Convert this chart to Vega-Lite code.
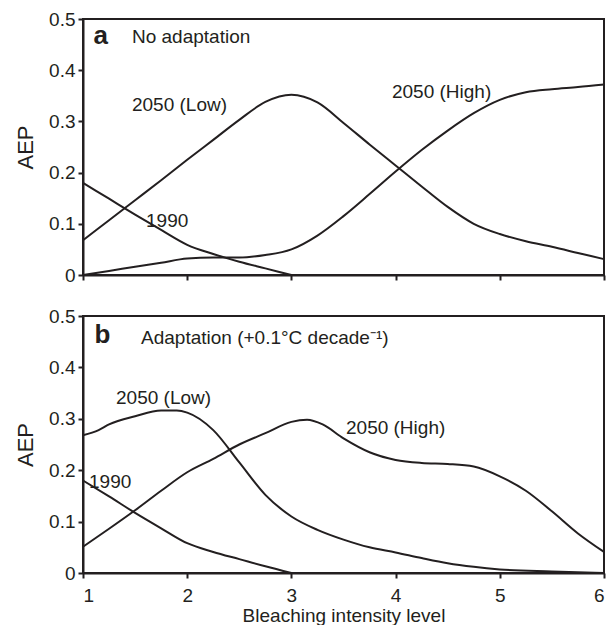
{
  "$schema": "https://vega.github.io/schema/vega-lite/v6.json",
  "padding": {"left": 13, "top": 9, "right": 8, "bottom": 0},
  "background": "white",
  "config": {
    "font": "Liberation Sans",
    "view": {"stroke": "#231f20", "strokeWidth": 2},
    "axis": {
      "grid": false,
      "domainColor": "#231f20",
      "domainWidth": 2,
      "tickColor": "#231f20",
      "tickWidth": 2,
      "tickSize": 5,
      "labelColor": "#231f20",
      "labelFont": "Liberation Sans",
      "labelFontSize": 19,
      "titleFont": "Liberation Sans",
      "titleFontWeight": "normal",
      "titleColor": "#231f20"
    }
  },
  "datasets": {
    "curves": [
      {"panel": "a", "series": "1990", "x": 1, "y": 0.18},
      {"panel": "a", "series": "1990", "x": 1.25, "y": 0.149},
      {"panel": "a", "series": "1990", "x": 1.5, "y": 0.118},
      {"panel": "a", "series": "1990", "x": 1.75, "y": 0.088},
      {"panel": "a", "series": "1990", "x": 2, "y": 0.059},
      {"panel": "a", "series": "1990", "x": 2.25, "y": 0.041},
      {"panel": "a", "series": "1990", "x": 2.5, "y": 0.026},
      {"panel": "a", "series": "1990", "x": 2.75, "y": 0.013},
      {"panel": "a", "series": "1990", "x": 3, "y": 0},
      {"panel": "a", "series": "2050 (Low)", "x": 1, "y": 0.068},
      {"panel": "a", "series": "2050 (Low)", "x": 1.25, "y": 0.107},
      {"panel": "a", "series": "2050 (Low)", "x": 1.5, "y": 0.146},
      {"panel": "a", "series": "2050 (Low)", "x": 1.75, "y": 0.185},
      {"panel": "a", "series": "2050 (Low)", "x": 2, "y": 0.225},
      {"panel": "a", "series": "2050 (Low)", "x": 2.25, "y": 0.264},
      {"panel": "a", "series": "2050 (Low)", "x": 2.5, "y": 0.303},
      {"panel": "a", "series": "2050 (Low)", "x": 2.75, "y": 0.338},
      {"panel": "a", "series": "2050 (Low)", "x": 3, "y": 0.352},
      {"panel": "a", "series": "2050 (Low)", "x": 3.25, "y": 0.337},
      {"panel": "a", "series": "2050 (Low)", "x": 3.5, "y": 0.297},
      {"panel": "a", "series": "2050 (Low)", "x": 3.75, "y": 0.255},
      {"panel": "a", "series": "2050 (Low)", "x": 4, "y": 0.214},
      {"panel": "a", "series": "2050 (Low)", "x": 4.25, "y": 0.173},
      {"panel": "a", "series": "2050 (Low)", "x": 4.5, "y": 0.133},
      {"panel": "a", "series": "2050 (Low)", "x": 4.75, "y": 0.1},
      {"panel": "a", "series": "2050 (Low)", "x": 5, "y": 0.08},
      {"panel": "a", "series": "2050 (Low)", "x": 5.25, "y": 0.066},
      {"panel": "a", "series": "2050 (Low)", "x": 5.5, "y": 0.055},
      {"panel": "a", "series": "2050 (Low)", "x": 5.75, "y": 0.043},
      {"panel": "a", "series": "2050 (Low)", "x": 6, "y": 0.031},
      {"panel": "a", "series": "2050 (High)", "x": 1, "y": 0},
      {"panel": "a", "series": "2050 (High)", "x": 1.25, "y": 0.008},
      {"panel": "a", "series": "2050 (High)", "x": 1.5, "y": 0.016},
      {"panel": "a", "series": "2050 (High)", "x": 1.75, "y": 0.024},
      {"panel": "a", "series": "2050 (High)", "x": 2, "y": 0.032},
      {"panel": "a", "series": "2050 (High)", "x": 2.25, "y": 0.034},
      {"panel": "a", "series": "2050 (High)", "x": 2.5, "y": 0.034},
      {"panel": "a", "series": "2050 (High)", "x": 2.75, "y": 0.039},
      {"panel": "a", "series": "2050 (High)", "x": 3, "y": 0.05},
      {"panel": "a", "series": "2050 (High)", "x": 3.25, "y": 0.077},
      {"panel": "a", "series": "2050 (High)", "x": 3.5, "y": 0.115},
      {"panel": "a", "series": "2050 (High)", "x": 3.75, "y": 0.158},
      {"panel": "a", "series": "2050 (High)", "x": 4, "y": 0.202},
      {"panel": "a", "series": "2050 (High)", "x": 4.25, "y": 0.244},
      {"panel": "a", "series": "2050 (High)", "x": 4.5, "y": 0.282},
      {"panel": "a", "series": "2050 (High)", "x": 4.75, "y": 0.316},
      {"panel": "a", "series": "2050 (High)", "x": 5, "y": 0.342},
      {"panel": "a", "series": "2050 (High)", "x": 5.25, "y": 0.357},
      {"panel": "a", "series": "2050 (High)", "x": 5.5, "y": 0.363},
      {"panel": "a", "series": "2050 (High)", "x": 5.75, "y": 0.367},
      {"panel": "a", "series": "2050 (High)", "x": 6, "y": 0.372},
      {"panel": "b", "series": "1990", "x": 1, "y": 0.18},
      {"panel": "b", "series": "1990", "x": 1.25, "y": 0.149},
      {"panel": "b", "series": "1990", "x": 1.5, "y": 0.117},
      {"panel": "b", "series": "1990", "x": 1.75, "y": 0.087},
      {"panel": "b", "series": "1990", "x": 2, "y": 0.058},
      {"panel": "b", "series": "1990", "x": 2.25, "y": 0.041},
      {"panel": "b", "series": "1990", "x": 2.5, "y": 0.027},
      {"panel": "b", "series": "1990", "x": 2.75, "y": 0.013},
      {"panel": "b", "series": "1990", "x": 3, "y": 0},
      {"panel": "b", "series": "2050 (Low)", "x": 1, "y": 0.268},
      {"panel": "b", "series": "2050 (Low)", "x": 1.15, "y": 0.278},
      {"panel": "b", "series": "2050 (Low)", "x": 1.25, "y": 0.289},
      {"panel": "b", "series": "2050 (Low)", "x": 1.5, "y": 0.305},
      {"panel": "b", "series": "2050 (Low)", "x": 1.75, "y": 0.316},
      {"panel": "b", "series": "2050 (Low)", "x": 1.9, "y": 0.316},
      {"panel": "b", "series": "2050 (Low)", "x": 2, "y": 0.312},
      {"panel": "b", "series": "2050 (Low)", "x": 2.25, "y": 0.278},
      {"panel": "b", "series": "2050 (Low)", "x": 2.5, "y": 0.215},
      {"panel": "b", "series": "2050 (Low)", "x": 2.75, "y": 0.152},
      {"panel": "b", "series": "2050 (Low)", "x": 3, "y": 0.11},
      {"panel": "b", "series": "2050 (Low)", "x": 3.25, "y": 0.084},
      {"panel": "b", "series": "2050 (Low)", "x": 3.5, "y": 0.065},
      {"panel": "b", "series": "2050 (Low)", "x": 3.75, "y": 0.05},
      {"panel": "b", "series": "2050 (Low)", "x": 4, "y": 0.04},
      {"panel": "b", "series": "2050 (Low)", "x": 4.25, "y": 0.029},
      {"panel": "b", "series": "2050 (Low)", "x": 4.5, "y": 0.019},
      {"panel": "b", "series": "2050 (Low)", "x": 4.75, "y": 0.012},
      {"panel": "b", "series": "2050 (Low)", "x": 5, "y": 0.007},
      {"panel": "b", "series": "2050 (Low)", "x": 5.5, "y": 0.003},
      {"panel": "b", "series": "2050 (Low)", "x": 6, "y": 0},
      {"panel": "b", "series": "2050 (High)", "x": 1, "y": 0.051},
      {"panel": "b", "series": "2050 (High)", "x": 1.25, "y": 0.086},
      {"panel": "b", "series": "2050 (High)", "x": 1.5, "y": 0.122},
      {"panel": "b", "series": "2050 (High)", "x": 1.75, "y": 0.16},
      {"panel": "b", "series": "2050 (High)", "x": 2, "y": 0.196},
      {"panel": "b", "series": "2050 (High)", "x": 2.25, "y": 0.222},
      {"panel": "b", "series": "2050 (High)", "x": 2.5, "y": 0.25},
      {"panel": "b", "series": "2050 (High)", "x": 2.75, "y": 0.272},
      {"panel": "b", "series": "2050 (High)", "x": 3, "y": 0.294},
      {"panel": "b", "series": "2050 (High)", "x": 3.15, "y": 0.298},
      {"panel": "b", "series": "2050 (High)", "x": 3.3, "y": 0.289},
      {"panel": "b", "series": "2050 (High)", "x": 3.5, "y": 0.262},
      {"panel": "b", "series": "2050 (High)", "x": 3.75, "y": 0.235},
      {"panel": "b", "series": "2050 (High)", "x": 4, "y": 0.22},
      {"panel": "b", "series": "2050 (High)", "x": 4.25, "y": 0.214},
      {"panel": "b", "series": "2050 (High)", "x": 4.5, "y": 0.212},
      {"panel": "b", "series": "2050 (High)", "x": 4.75, "y": 0.207},
      {"panel": "b", "series": "2050 (High)", "x": 5, "y": 0.188},
      {"panel": "b", "series": "2050 (High)", "x": 5.25, "y": 0.16},
      {"panel": "b", "series": "2050 (High)", "x": 5.5, "y": 0.12},
      {"panel": "b", "series": "2050 (High)", "x": 5.75, "y": 0.077},
      {"panel": "b", "series": "2050 (High)", "x": 6, "y": 0.041}
    ],
    "labels": [
      {"panel": "a", "kind": "letter", "x": 1.1, "y": 0.466, "text": "a"},
      {"panel": "a", "kind": "note", "x": 1.47, "y": 0.464, "text": "No adaptation"},
      {"panel": "a", "kind": "note", "x": 1.47, "y": 0.333, "text": "2050 (Low)"},
      {"panel": "a", "kind": "note", "x": 1.605, "y": 0.106, "text": "1990"},
      {"panel": "a", "kind": "note", "x": 3.965, "y": 0.358, "text": "2050 (High)"},
      {"panel": "b", "kind": "letter", "x": 1.11, "y": 0.464, "text": "b"},
      {"panel": "b", "kind": "note", "x": 1.557, "y": 0.457, "text": "Adaptation (+0.1°C decade⁻¹)"},
      {"panel": "b", "kind": "note", "x": 1.317, "y": 0.34, "text": "2050 (Low)"},
      {"panel": "b", "kind": "note", "x": 1.058, "y": 0.177, "text": "1990"},
      {"panel": "b", "kind": "note", "x": 3.524, "y": 0.2815, "text": "2050 (High)"}
    ]
  },
  "bounds": "flush",
  "spacing": 41,
  "vconcat": [
    {
      "width": 521,
      "height": 256,
      "encoding": {
        "x": {"field": "x", "type": "quantitative", "scale": {"domain": [1, 6], "nice": false, "zero": false},
              "axis": {"values": [1, 2, 3, 4, 5, 6], "labels": false, "title": null}},
        "y": {"field": "y", "type": "quantitative", "scale": {"domain": [0, 0.5], "nice": false},
              "axis": {"values": [0, 0.1, 0.2, 0.3, 0.4, 0.5], "labelExpr": "datum.value == 0 ? '0' : format(datum.value, '.1f')", "labelPadding": 3, "title": "AEP", "titleFontSize": 22, "titlePadding": 11}}
      },
      "layer": [
        {
          "data": {"name": "curves"},
          "transform": [{"filter": "datum.panel == 'a'"}],
          "mark": {"type": "line", "interpolate": "monotone", "color": "#231f20", "strokeWidth": 2},
          "encoding": {"detail": {"field": "series", "type": "nominal"}}
        },
        {
          "data": {"name": "labels"},
          "transform": [{"filter": "datum.panel == 'a' && datum.kind == 'note'"}],
          "mark": {"type": "text", "align": "left", "baseline": "middle", "fontSize": 19, "color": "#231f20", "font": "Liberation Sans"},
          "encoding": {"text": {"field": "text", "type": "nominal"}}
        },
        {
          "data": {"name": "labels"},
          "transform": [{"filter": "datum.panel == 'a' && datum.kind == 'letter'"}],
          "mark": {"type": "text", "align": "left", "baseline": "middle", "fontSize": 26, "fontWeight": "bold", "color": "#231f20", "font": "Liberation Sans"},
          "encoding": {"text": {"field": "text", "type": "nominal"}}
        }
      ]
    },
    {
      "width": 521,
      "height": 257,
      "encoding": {
        "x": {"field": "x", "type": "quantitative", "scale": {"domain": [1, 6], "nice": false, "zero": false},
              "axis": {"values": [1, 2, 3, 4, 5, 6], "format": "d", "labelPadding": 8, "title": "Bleaching intensity level", "titleFontSize": 19, "titlePadding": 1}},
        "y": {"field": "y", "type": "quantitative", "scale": {"domain": [0, 0.5], "nice": false},
              "axis": {"values": [0, 0.1, 0.2, 0.3, 0.4, 0.5], "labelExpr": "datum.value == 0 ? '0' : format(datum.value, '.1f')", "labelPadding": 3, "title": "AEP", "titleFontSize": 22, "titlePadding": 11}}
      },
      "layer": [
        {
          "data": {"name": "curves"},
          "transform": [{"filter": "datum.panel == 'b'"}],
          "mark": {"type": "line", "interpolate": "monotone", "color": "#231f20", "strokeWidth": 2},
          "encoding": {"detail": {"field": "series", "type": "nominal"}}
        },
        {
          "data": {"name": "labels"},
          "transform": [{"filter": "datum.panel == 'b' && datum.kind == 'note'"}],
          "mark": {"type": "text", "align": "left", "baseline": "middle", "fontSize": 19, "color": "#231f20", "font": "Liberation Sans"},
          "encoding": {"text": {"field": "text", "type": "nominal"}}
        },
        {
          "data": {"name": "labels"},
          "transform": [{"filter": "datum.panel == 'b' && datum.kind == 'letter'"}],
          "mark": {"type": "text", "align": "left", "baseline": "middle", "fontSize": 26, "fontWeight": "bold", "color": "#231f20", "font": "Liberation Sans"},
          "encoding": {"text": {"field": "text", "type": "nominal"}}
        }
      ]
    }
  ]
}
